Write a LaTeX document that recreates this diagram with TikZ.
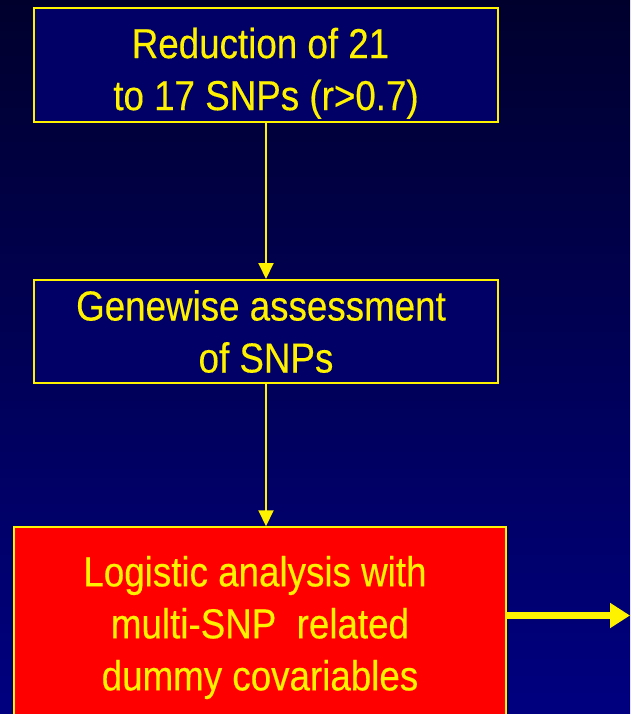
\documentclass[tikz,border=0pt]{standalone}
\usepackage{fontspec}
\setmainfont{Liberation Sans}[FakeStretch=0.875,FakeBold=0.3]
\usepackage{tikz}
\usetikzlibrary{positioning,arrows.meta}
\definecolor{slidetop}{RGB}{0,0,45}
\definecolor{slidebottom}{RGB}{0,0,128}
\definecolor{boxblue}{RGB}{0,0,102}

\begin{document}
\begin{tikzpicture}[x=1pt,y=-1pt,font=\fontsize{42}{52}\selectfont,
  stepbox/.style={draw=yellow,line width=2pt,fill=boxblue,text=yellow,align=center,minimum width=464pt,inner sep=0pt},
  redbox/.style={draw=yellow,line width=1.5pt,fill=red,text=yellow,align=center,minimum width=492pt,inner sep=0pt},
  flowline/.style={draw=yellow,line width=2pt,-{Triangle[length=16pt,width=15pt]}},
  bigarrow/.style={draw=yellow,line width=7pt,-{Triangle[length=20pt,width=24pt]}}]
\useasboundingbox (0,0) rectangle (630,714);
\clip (0,0) rectangle (630,714);
\shade[top color=slidetop,bottom color=slidebottom] (0,0) rectangle (630,714);

\node[stepbox,minimum height=114pt] (reduce) at (266,65) {\rule{0pt}{47pt}Reduction of 21\hspace*{11pt}\\to 17 SNPs (r>0.7)};
\node[stepbox,minimum height=103pt] (genewise) at (266,331.5) {Genewise assessment\hspace*{10pt}\\of SNPs};
\node[redbox,minimum height=201pt] (logistic) at (260,627.5) {Logistic analysis with\hspace*{10pt}\\multi-SNP~ related\hspace*{10pt}\\dummy covariables};
\coordinate (exit) at (630,615.5);

\draw[flowline] (reduce) -- (genewise);
\draw[flowline] (genewise.south) -- (genewise.south |- logistic.north);
\draw[bigarrow] (logistic.east |- exit) -- (exit);

\end{tikzpicture}
\end{document}
